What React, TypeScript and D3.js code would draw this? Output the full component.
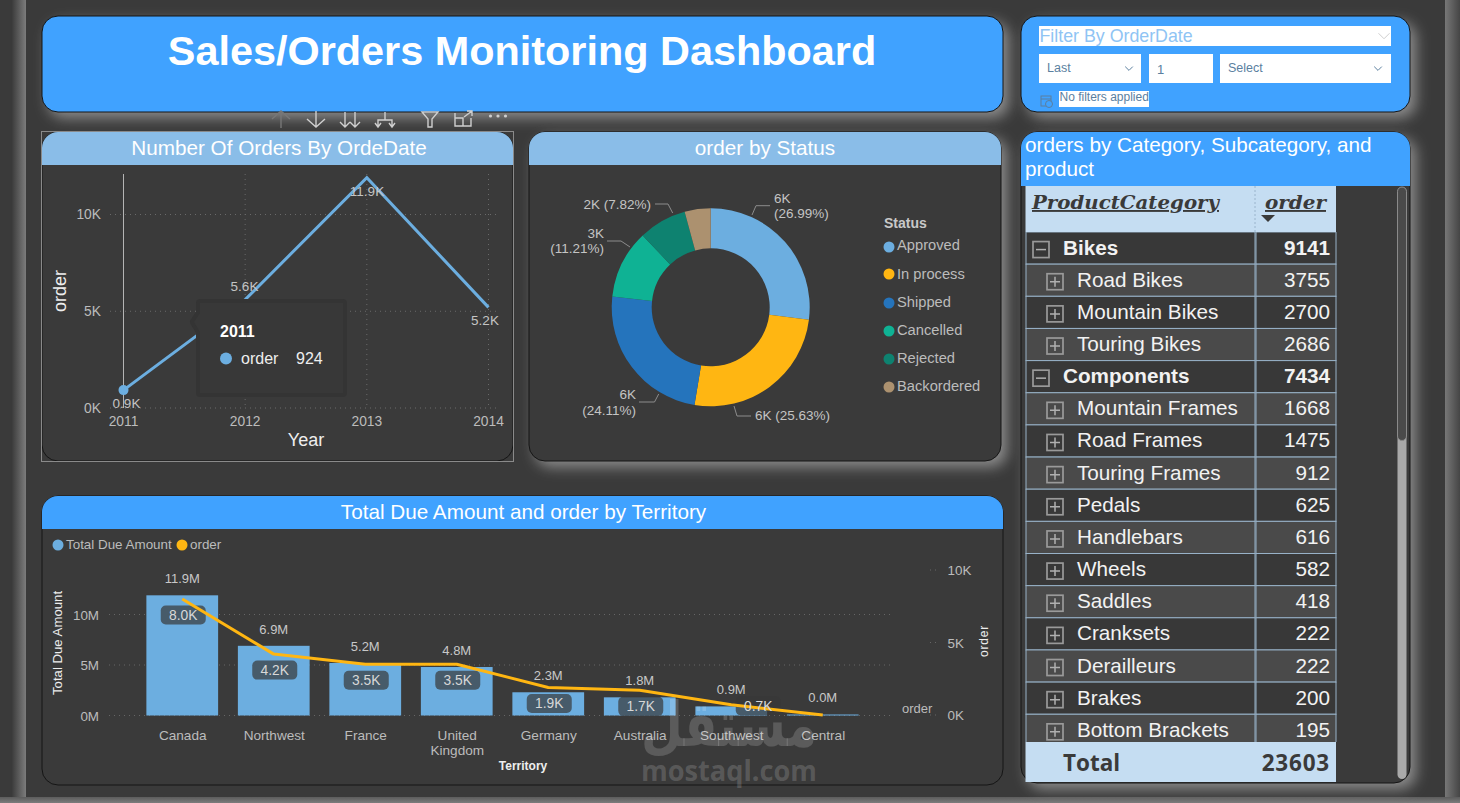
import React from "react";
import * as d3 from "d3";

const FONT = "'Liberation Sans', Arial, sans-serif";
const BLUE = "#40a2ff";
const LIGHT = "#8abde8";
const CARD = "#3a3a3a";
const TICK = "#bcbcbc";
const SKY = "#6caee0";
const AMBER = "#ffb612";

// ---- data ----
const years = ["2011", "2012", "2013", "2014"];
const yearOrders = [924, 5600, 11900, 5200];
const yearLabels = ["0.9K", "5.6K", "11.9K", "5.2K"];
const yearTicks = [0, 5000, 10000];

const statuses = ["Approved", "In process", "Shipped", "Cancelled", "Rejected", "Backordered"];
const statusShare = [26.99, 25.63, 24.11, 11.21, 7.82, 4.24];
const statusColors = ["#6caee0", "#ffb612", "#2574bc", "#0fb294", "#0e8270", "#ac916f"];

const territories = ["Canada", "Northwest", "France", "United Kingdom", "Germany", "Australia", "Southwest", "Central"];
const dueAmount = [11.9, 6.9, 5.2, 4.8, 2.3, 1.8, 0.9, 0.1];
const dueLabels = ["11.9M", "6.9M", "5.2M", "4.8M", "2.3M", "1.8M", "0.9M", "0.0M"];
const territoryOrders = [8000, 4200, 3500, 3500, 1900, 1700, 700, 0];
const territoryOrderLabels = ["8.0K", "4.2K", "3.5K", "3.5K", "1.9K", "1.7K", "0.7K", ""];

const rowNames = ["Bikes", "Road Bikes", "Mountain Bikes", "Touring Bikes", "Components", "Mountain Frames", "Road Frames", "Touring Frames", "Pedals", "Handlebars", "Wheels", "Saddles", "Cranksets", "Derailleurs", "Brakes", "Bottom Brackets"];
const rowValues = [9141, 3755, 2700, 2686, 7434, 1668, 1475, 912, 625, 616, 582, 418, 222, 222, 200, 195];
const rowIsGroup = [true, false, false, false, true, false, false, false, false, false, false, false, false, false, false, false];
const grandTotal = 23603;

// ---- layout of donut labels ----
const donutLeaders = [
  [[752, 215], [756, 205.7], [770, 205.7]],
  [[734, 406], [737, 416], [751, 416]],
  [[658.7, 394], [654.5, 402], [639, 402]],
  [[630, 247], [621, 241], [607, 241]],
  [[672.7, 213], [668, 204], [655, 204]],
];
const donutTexts: [number, number, string, string][][] = [
  [[774, 198, "start", "6K"], [774, 213, "start", "(26.99%)"]],
  [[755, 415, "start", "6K (25.63%)"]],
  [[636, 394, "end", "6K"], [636, 410, "end", "(24.11%)"]],
  [[604, 233, "end", "3K"], [604, 248, "end", "(11.21%)"]],
  [[651, 204, "end", "2K (7.82%)"]],
];

function Card({ x, y, w, h, titleH, color, title, tx, glow = true }: any) {
  const path = `M${x},${y + titleH}V${y + 16}a16,16 0 0 1 16,-16H${x + w - 16}a16,16 0 0 1 16,16V${y + titleH}Z`;
  return (
    <g>
      {glow && <rect x={x + 6} y={y + 6} width={w} height={h} rx={16} fill="#8c8c8c" filter="url(#glow)" />}
      <rect x={x} y={y} width={w} height={h} rx={16} fill={CARD} stroke="#151515" strokeWidth={1} />
      <path d={path} fill={color} />
      {title && <text x={tx} y={y + titleH / 2 + 6} textAnchor="middle" fontSize={20.7} fill="#fff">{title}</text>}
    </g>
  );
}

function LineChart() {
  const x = d3.scalePoint<string>().domain(years).range([123.5, 488.5]);
  const y = d3.scaleLinear().domain([0, 10000]).range([408, 214.5]);
  const line = d3.line<number>().x((_, i) => x(years[i])!).y((d) => y(d));
  const labelPos = [[126.5, 408], [244.5, 291], [367, 196], [485, 325]];
  const tooltip = "M200,303H343V393H200V332L194,322L200,313Z";
  return (
    <g>
      {yearTicks.map((t) => (
        <g key={t}>
          <line x1={110} x2={497} y1={y(t)} y2={y(t)} stroke="#6a6a6a" strokeDasharray="1 4" />
          <text x={101} y={y(t) + 4.5} textAnchor="end" fontSize={13.8} fill={TICK}>{t / 1000}K</text>
        </g>
      ))}
      {years.slice(1).map((t) => (
        <line key={t} x1={x(t)} x2={x(t)} y1={174} y2={408} stroke="#6a6a6a" strokeDasharray="1 4" />
      ))}
      <line x1={123.5} x2={123.5} y1={174} y2={408} stroke="#b4b4b4" />
      <path d={line(yearOrders)!} fill="none" stroke={SKY} strokeWidth={3} />
      <circle cx={x(years[0])} cy={y(yearOrders[0])} r={5} fill={SKY} />
      {yearLabels.map((l, i) => (
        <text key={l} x={labelPos[i][0]} y={labelPos[i][1]} textAnchor="middle" fontSize={13.5} fill="#c4c4c4">{l}</text>
      ))}
      {years.map((t) => (
        <text key={t} x={x(t)} y={426} textAnchor="middle" fontSize={13.8} fill={TICK}>{t}</text>
      ))}
      <text transform="translate(66,291) rotate(-90)" textAnchor="middle" fontSize={18} fill="#eee">order</text>
      <text x={306} y={446} textAnchor="middle" fontSize={18} fill="#eee">Year</text>
      <path d={tooltip} fill="#383838" stroke="#343434" strokeWidth={8} strokeLinejoin="round" />
      <path d={tooltip} fill="#383838" />
      <text x={220} y={337} fontSize={16} fontWeight="bold" fill="#fff">2011</text>
      <circle cx={226} cy={358.5} r={6} fill={SKY} />
      <text x={241} y={364} fontSize={16} fill="#eee">order</text>
      <text x={296} y={364} fontSize={16} fill="#eee">924</text>
    </g>
  );
}

function Toolbar() {
  const c = "#cfcfcf";
  return (
    <g fill="none" stroke={c} strokeWidth={1.4}>
      <path d="M281,128V111M272,119L281,111L290,119" stroke="#777" />
      <path d="M316,111V127M307,119L316,127L325,119" />
      <path d="M345,112V127M340,122L345,127L350,122M355,112V127M350,122L355,127L360,122" />
      <path d="M378,127V120H392V127M385,120V112M375,123L378,127L381,123M389,123L392,127L395,123" />
      <path d="M422,112H438L432,119V127H428V119Z" />
      <path d="M455,113V126H471V118M455,118H463V126M464,117L472,111M467,111H472V116" />
      <g fill={c} stroke="none">
        <circle cx={490.5} cy={116} r={1.6} /><circle cx={498} cy={116} r={1.6} /><circle cx={505.5} cy={116} r={1.6} />
      </g>
    </g>
  );
}

function Donut() {
  const cx = 710.7, cy = 307.3;
  const pie = d3.pie<number>().sort(null)(statusShare);
  const arc = d3.arc<d3.PieArcDatum<number>>().innerRadius(59).outerRadius(99);
  const line = d3.line();
  const legendY = [247, 274, 303, 331, 359, 387];
  const legendTextY = [250, 279, 307, 335, 363, 391];
  return (
    <g>
      <g transform={`translate(${cx},${cy})`}>
        {pie.map((d, i) => <path key={i} d={arc(d)!} fill={statusColors[i]} />)}
      </g>
      {donutLeaders.map((p, i) => (
        <path key={i} d={line(p as [number, number][])!} fill="none" stroke="#8c8c8c" />
      ))}
      {donutTexts.flat().map(([x, y, a, t], i) => (
        <text key={i} x={x} y={y + 5} textAnchor={a as any} fontSize={13.5} fill="#c4c4c4">{t}</text>
      ))}
      <text x={884} y={228} fontSize={14} fontWeight="bold" fill="#c8c8c8">Status</text>
      {statuses.map((s, i) => (
        <g key={s}>
          <circle cx={889} cy={legendY[i]} r={5.5} fill={statusColors[i]} />
          <text x={897} y={legendTextY[i]} fontSize={14.7} fill={TICK}>{s}</text>
        </g>
      ))}
    </g>
  );
}

function Combo() {
  const x = d3.scaleBand<string>().domain(territories).range([136.5, 868.5]).paddingInner(0.216).paddingOuter(0.108);
  const y = d3.scaleLinear().domain([0, 10]).range([715.5, 614.5]);
  const y2 = d3.scaleLinear().domain([0, 10000]).range([715, 570]);
  const cxOf = (t: string) => x(t)! + x.bandwidth() / 2;
  const line = d3.line<number>().x((_, i) => cxOf(territories[i])).y((d) => y2(d));
  return (
    <g>
      <circle cx={58} cy={545} r={5.5} fill={SKY} />
      <text x={66} y={549} fontSize={13.4} fill={TICK}>Total Due Amount</text>
      <circle cx={182} cy={545} r={5.5} fill={AMBER} />
      <text x={190} y={549} fontSize={13.4} fill={TICK}>order</text>
      {[0, 5, 10].map((t) => (
        <g key={t}>
          <line x1={109} x2={892} y1={y(t)} y2={y(t)} stroke="#666" strokeDasharray="1 4" />
          <text x={99} y={y(t) + 5} textAnchor="end" fontSize={13.4} fill={TICK}>{t}M</text>
        </g>
      ))}
      {[0, 5000, 10000].map((t) => (
        <g key={t}>
          <line x1={930} x2={938} y1={y2(t)} y2={y2(t)} stroke="#666" strokeDasharray="1 4" />
          <text x={947.5} y={y2(t) + 5} fontSize={13.4} fill={TICK}>{t / 1000}K</text>
        </g>
      ))}
      {territories.map((t, i) => (
        <rect key={t} x={x(t)} y={y(dueAmount[i])} width={x.bandwidth()} height={y(0) - y(dueAmount[i])} fill={SKY} />
      ))}
      {territoryOrderLabels.map((l, i) => l && (
        <rect key={l + i} x={cxOf(territories[i]) - 21.5 + (i === 6 ? 26 : 0)} y={y2(territoryOrders[i]) + 6.5 - (i === 6 ? 15 : 0)} width={45} height={19} rx={5} fill="#383838" opacity={0.7} />
      ))}
      <path d={line(territoryOrders)!} fill="none" stroke={AMBER} strokeWidth={3} strokeLinejoin="round" />
      {territoryOrderLabels.map((l, i) => l && (
        <text key={l + i} x={cxOf(territories[i]) + 1 + (i === 6 ? 26 : 0)} y={y2(territoryOrders[i]) + 21 - (i === 6 ? 15 : 0)} textAnchor="middle" fontSize={13.8} fill="#d8d8d8">{l}</text>
      ))}
      {dueLabels.map((l, i) => (
        <text key={l} x={cxOf(territories[i])} y={y(dueAmount[i]) - 12} textAnchor="middle" fontSize={13} fill="#c8c8c8">{l}</text>
      ))}
      {territories.map((t) => {
        const parts = t === "United Kingdom" ? t.split(" ") : [t];
        return parts.map((p, j) => (
          <text key={p} x={cxOf(t) + 0.5} y={740 + j * 15} textAnchor="middle" fontSize={13.6} fill={TICK}>{p}</text>
        ));
      })}
      <text transform="translate(62,643) rotate(-90)" textAnchor="middle" fontSize={13.2} fill="#eee">Total Due Amount</text>
      <text x={523} y={770} textAnchor="middle" fontSize={12} fontWeight="bold" fill="#eee">Territory</text>
      <text x={902} y={713} fontSize={13} fill={TICK}>order</text>
      <text transform="translate(988,641) rotate(-90)" textAnchor="middle" fontSize={12} letterSpacing={0.8} fill="#eee">order</text>
    </g>
  );
}

function Chevron({ x, y, color, s = 4.5 }: any) {
  return <path d={`M${x - s},${y - s / 2}L${x},${y + s / 2}L${x + s},${y - s / 2}`} fill="none" stroke={color} strokeWidth={1} />;
}

function FilterCard() {
  const ink = "#5b7f9f";
  return (
    <g>
      <rect x={1027} y={22} width={389} height={96} rx={16} fill="#8c8c8c" filter="url(#glow)" />
      <rect x={1021} y={16} width={389} height={96} rx={16} fill={BLUE} stroke="#151515" />
      <rect x={1039} y={26} width={352} height={20} fill="#fff" />
      <text x={1039.5} y={42} fontSize={17.8} fill="#8fc4f4">Filter By OrderDate</text>
      <Chevron x={1384} y={36} color="#cfcfcf" s={5.5} />
      <rect x={1039} y={54} width={102} height={29} fill="#fff" />
      <rect x={1149} y={54} width={64} height={29} fill="#fff" />
      <rect x={1220} y={54} width={171} height={29} fill="#fff" />
      <text x={1047} y={72} fontSize={12.5} fill={ink}>Last</text>
      <Chevron x={1129} y={68.5} color={ink} s={3.8} />
      <text x={1157} y={73.5} fontSize={13} fill={ink}>1</text>
      <text x={1228} y={72} fontSize={12.5} fill={ink}>Select</text>
      <Chevron x={1378} y={68.5} color={ink} s={3.8} />
      <rect x={1059} y={91} width={90} height={16} fill="#fff" />
      <text x={1059.5} y={101} fontSize={12} fill={ink}>No filters applied</text>
      <g fill="none" stroke={ink} strokeWidth={1}>
        <rect x={1041} y={96} width={10} height={10} />
        <path d="M1041,99H1051" />
        <circle cx={1049} cy={104} r={3.5} fill={BLUE} />
      </g>
    </g>
  );
}

function Table() {
  const rowY = d3.scaleLinear().domain([0, 1]).range([232, 264.15]);
  const rows = d3.range(rowNames.length);
  const col1 = [1026, 1255];
  const col2 = [1256, 1336];
  return (
    <g>
      <rect x={1027} y={138} width={389} height={651} rx={16} fill="#8c8c8c" filter="url(#glow)" />
      <rect x={1021} y={132} width={389} height={651} rx={16} fill={CARD} stroke="#151515" />
      <path d="M1021,186V148a16,16 0 0 1 16,-16H1394a16,16 0 0 1 16,16V186Z" fill={BLUE} />
      <text x={1025} y={152} fontSize={20.7} fill="#fff">orders by Category, Subcategory, and</text>
      <text x={1025} y={176} fontSize={20.7} fill="#fff">product</text>
      <rect x={1025.5} y={186} width={310.5} height={46} fill="#c5ddf2" />
      <line x1={1255} x2={1255} y1={186} y2={232} stroke="#9ab4cc" strokeDasharray="2 2" />
      <text x={1032} y={209} fontFamily="'DejaVu Serif', serif" fontStyle="italic" fontWeight="bold" fontSize={19} textLength={187} lengthAdjust="spacingAndGlyphs" fill="#3a3a3a" textDecoration="underline">ProductCategory</text>
      <text x={1265} y={209} fontFamily="'DejaVu Serif', serif" fontStyle="italic" fontWeight="bold" fontSize={19} textLength={61} lengthAdjust="spacingAndGlyphs" fill="#3a3a3a" textDecoration="underline">order</text>
      <path d="M1261,215H1275L1268,222Z" fill="#3a3a3a" />
      <defs>
        <clipPath id="rowsClip"><rect x={1020} y={232} width={320} height={510} /></clipPath>
      </defs>
      <g clipPath="url(#rowsClip)">
        {rows.map((i) => {
          const y0 = rowY(i), y1 = rowY(i + 1);
          const group = rowIsGroup[i];
          const bx = group ? 1033 : 1047;
          const mid = (y0 + y1) / 2;
          const fill = i % 2 ? "#4a4a4a" : "#383838";
          return (
            <g key={rowNames[i]}>
              {[col1, col2].map((c) => (
                <rect key={c[0]} x={c[0]} y={y0} width={c[1] - c[0]} height={y1 - y0} fill={fill} stroke="#98b2c8" strokeWidth={1} />
              ))}
              <rect x={bx} y={mid - 6.5} width={16} height={16} fill="none" stroke="#9a9a9a" strokeWidth={1.7} />
              <path d={group ? `M${bx + 3},${mid + 1.5}H${bx + 13}` : `M${bx + 3},${mid + 1.5}H${bx + 13}M${bx + 8},${mid - 3.5}V${mid + 6.5}`} stroke="#b0b0b0" strokeWidth={1.5} />
              <text x={group ? 1063 : 1077} y={mid + 6.5} fontSize={20.7} fontWeight={group ? "bold" : "normal"} fill="#f2f2f2">{rowNames[i]}</text>
              <text x={1330} y={mid + 6.5} textAnchor="end" fontSize={20.7} fontWeight={group ? "bold" : "normal"} fill="#f2f2f2">{rowValues[i]}</text>
            </g>
          );
        })}
      </g>
      <rect x={1025.5} y={742} width={310.5} height={40} fill="#c5ddf2" />
      <text x={1063} y={771} fontFamily="'Open Sans', sans-serif" fontWeight="bold" fontSize={22.5} fill="#3a3a3a">Total</text>
      <text x={1330} y={771} textAnchor="end" fontFamily="'Open Sans', sans-serif" fontWeight="bold" fontSize={22.5} letterSpacing={0.8} fill="#3a3a3a">{grandTotal}</text>
      <rect x={1397.5} y={187} width={9} height={592} rx={4.5} fill="#a9a9a9" />
      <path d="M1397.5,191.5a4.5,4.5 0 0 1 9,0V436a4.5,4.5 0 0 1 -9,0Z" fill="#4a4a4a" stroke="#8a8a8a" />
    </g>
  );
}

export default function App() {
  return (
    <svg width={1460} height={803} viewBox="0 0 1460 803" fontFamily={FONT} style={{ position: "fixed", left: 0, top: 0, display: "block" }}>
      <defs>
        <linearGradient id="edgeL" x1="0" x2="1" y1="0" y2="0">
          <stop offset="0" stopColor="#3c3c3c" /><stop offset="1" stopColor="#7c7c7c" />
        </linearGradient>
        <linearGradient id="edgeR" x1="0" x2="1" y1="0" y2="0">
          <stop offset="0" stopColor="#777" /><stop offset="1" stopColor="#454545" />
        </linearGradient>
        <linearGradient id="edgeB" x1="0" x2="0" y1="0" y2="1">
          <stop offset="0" stopColor="#5c5c5c" /><stop offset="1" stopColor="#7c7c7c" />
        </linearGradient>
        <filter id="glow" x="-20%" y="-20%" width="140%" height="140%">
          <feGaussianBlur stdDeviation="7" />
        </filter>
      </defs>
      <rect width={1460} height={803} fill="#3a3a3a" />
      <rect x={12} y={0} width={14} height={803} fill="url(#edgeL)" />
      <rect x={1445} y={0} width={15} height={803} fill="url(#edgeR)" />
      <rect x={0} y={797} width={1460} height={6} fill="url(#edgeB)" />

      <g>
        <rect x={48} y={22} width={961} height={96} rx={16} fill="#8c8c8c" filter="url(#glow)" />
        <rect x={42} y={16} width={961} height={96} rx={16} fill={BLUE} stroke="#151515" />
        <text x={522} y={65} textAnchor="middle" fontSize={41.4} fontWeight="bold" fill="#fff">Sales/Orders Monitoring Dashboard</text>
      </g>

      <Toolbar />
      <Card x={42} y={132} w={471} h={329} titleH={33} color={LIGHT} title="Number Of Orders By OrdeDate" tx={279} glow={false} />
      <rect x={41.5} y={131.5} width={472} height={330} fill="none" stroke="#8a8a8a" />
      <LineChart />

      <Card x={529} y={132} w={472} h={329} titleH={33} color={LIGHT} title="order by Status" tx={765} />
      <Donut />

      <Card x={42} y={496} w={961} h={289} titleH={33} color={BLUE} title="Total Due Amount and order by Territory" tx={523.5} glow={false} />
      <Combo />

      <FilterCard />
      <Table />

      <g fill="#fff" fillOpacity={0.17} fontWeight="bold" textAnchor="middle">
        <text x={729} y={746} fontFamily="'DejaVu Sans', sans-serif" fontSize={62} direction="rtl" textLength={176} lengthAdjust="spacingAndGlyphs">مستقل</text>
        <text x={729} y={781} fontFamily="'Open Sans', sans-serif" fontSize={29} textLength={176} lengthAdjust="spacingAndGlyphs">mostaql.com</text>
      </g>
    </svg>
  );
}
